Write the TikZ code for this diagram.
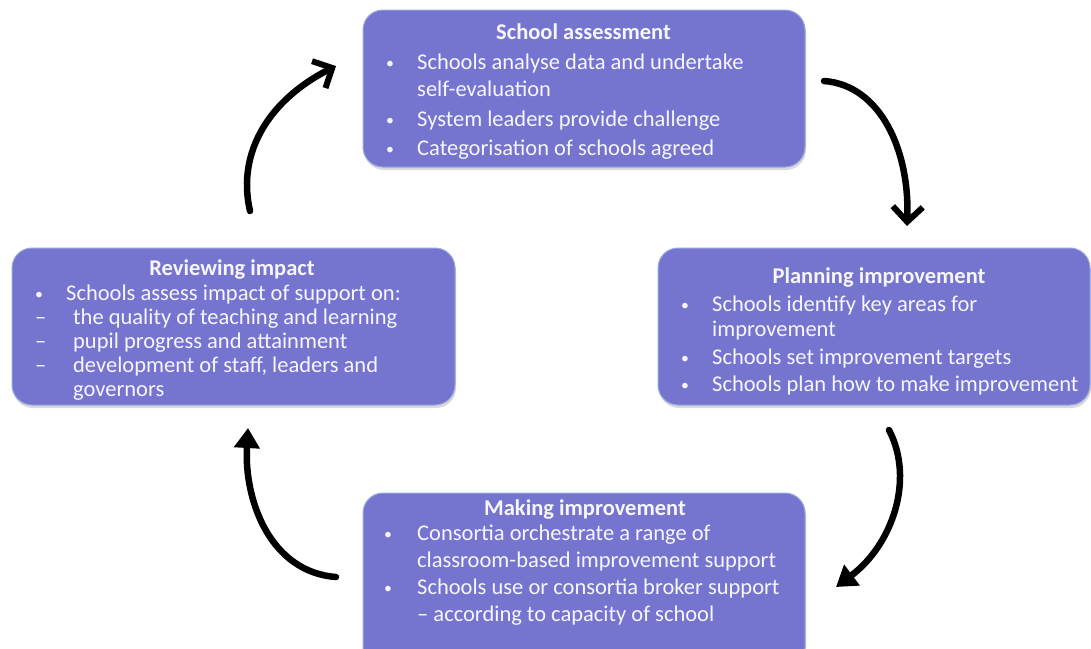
\documentclass[tikz,border=0pt]{standalone}
\usepackage{fontspec}
\setmainfont{Carlito}
\usetikzlibrary{arrows.meta,shadows}
\definecolor{boxfill}{RGB}{117,117,208}
\definecolor{boxline}{RGB}{150,168,222}
\definecolor{boxtext}{RGB}{246,246,252}
\newcommand{\smallbul}{\raisebox{1pt}{\scalebox{0.7}{\textbullet}}}
\newcommand{\bulA}{\makebox[31pt][l]{\smallbul}}
\newcommand{\bulB}{\makebox[33pt][l]{\smallbul}}
\newcommand{\dsh}{\makebox[38pt][l]{–}}
\begin{document}
\begin{tikzpicture}[x=1pt,y=-1pt,
  stagebox/.style={draw=boxline, line width=1pt, fill=boxfill, rounded corners=20pt,
    drop shadow={opacity=0.3, shadow xshift=1pt, shadow yshift=-3pt},
    inner sep=0pt, minimum width=#1},
  bodytext/.style={text=boxtext, inner sep=0pt, anchor=base west,
    font=\fontsize{22.5}{27}\selectfont},
  titletext/.style={text=boxtext, inner sep=0pt, anchor=base,
    font=\fontsize{22.5}{27}\selectfont\bfseries},
  cyclearrow/.style={line width=6.5pt, line cap=round},
  barb/.style={-{Straight Barb[length=15pt,width=30pt,line width=6pt]}},
  tri/.style={-{Triangle[length=20pt,width=25pt]}}
]
\useasboundingbox (0,0) rectangle (1091,648);

% boxes
\node[stagebox=442pt, minimum height=157pt] (sa) at (584,88.5) {};
\node[stagebox=432pt, minimum height=157pt] (pi) at (874,326.5) {};
\node[stagebox=443pt, minimum height=157pt] (ri) at (233.5,326.5) {};
\node[stagebox=442pt, minimum height=175pt] (mi) at (584,580.5) {};

% School assessment
\node[titletext] (saT) at (583.5,39) {School assessment};
\node[bodytext] (saB) at (386,69) {\begin{tabular}[t]{@{}l@{}}
\bulA Schools analyse data and undertake\\
\hspace*{31pt}self-evaluation\\[3pt]
\bulA System leaders provide challenge\\[2pt]
\bulA Categorisation of schools agreed
\end{tabular}};

% Planning improvement
\node[titletext] (piT) at (879,283) {Planning improvement};
\node[bodytext] (piB) at (681,311) {\begin{tabular}[t]{@{}l@{}}
\bulA Schools identify key areas for\\[-2pt]
\hspace*{31pt}improvement\\[1pt]
\bulA Schools set improvement targets\\
\bulA Schools plan how to make improvement
\end{tabular}};

% Reviewing impact
\node[titletext] (riT) at (232,275) {Reviewing impact};
\node[bodytext, font=\fontsize{22.5}{24}\selectfont] (riB) at (35,300) {\begin{tabular}[t]{@{}l@{}}
\bulA Schools assess impact of support on:\\
\dsh the quality of teaching and learning\\
\dsh pupil progress and attainment\\
\dsh development of staff, leaders and\\
\hspace*{38pt}governors
\end{tabular}};

% Making improvement
\node[titletext] (miT) at (585,515) {Making improvement};
\node[bodytext] (miB) at (384,540) {\begin{tabular}[t]{@{}l@{}}
\bulB Consortia orchestrate a range of\\
\hspace*{33pt}classroom-based improvement support\\
\bulB Schools use or consortia broker support\\
\hspace*{33pt}– according to capacity of school
\end{tabular}};

% arrow end points
\coordinate (a1s) at (250,211);
\coordinate (a1e) at (336,66);
\coordinate (a2s) at (824,81);
\coordinate (a2e) at (907,226);
\coordinate (a3s) at (889,430);
\coordinate (a3e) at (836,587);
\coordinate (a4s) at (336,577);
\coordinate (a4e) at (248,428);

\draw[cyclearrow, barb] (a1s) .. controls (236,150) and (272,98) .. (a1e);
\draw[cyclearrow, barb] (a2s) .. controls (880,85) and (910,150) .. (a2e);
\draw[cyclearrow, tri] (a3s) .. controls (915,480) and (892,545) .. (a3e);
\draw[cyclearrow, tri] (a4s) .. controls (270,572) and (244,500) .. (a4e);
\end{tikzpicture}
\end{document}
